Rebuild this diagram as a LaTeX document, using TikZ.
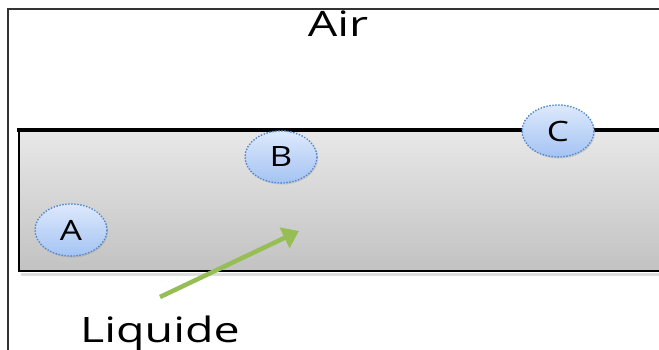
\documentclass[tikz,border=0pt]{standalone}
\usepackage{fontspec}
\newfontfamily\osf{Open Sans}
\usetikzlibrary{shapes.geometric,arrows.meta,shadows}
\definecolor{bubtop}{HTML}{DDE9FC}
\definecolor{bubbot}{HTML}{A4C3F3}
\definecolor{bubedge}{HTML}{4F86CC}
\definecolor{bubring}{HTML}{C2D7F3}
\definecolor{liqtop}{HTML}{E8E8E8}
\definecolor{liqbot}{HTML}{C2C2C2}
\definecolor{arrowgreen}{HTML}{96BE55}
\tikzset{
  bubble/.style={ellipse, minimum width=72pt, minimum height=52pt, inner sep=0pt,
    top color=bubtop, bottom color=bubbot,
    preaction={draw=bubring, line width=1.4pt},
    draw=bubedge, line width=1.9pt,
    dash pattern=on 0pt off 3pt, line cap=round,
    drop shadow={opacity=0.25, shadow xshift=1pt, shadow yshift=-1.5pt},
    font=\osf\fontsize{28}{30}\selectfont},
  label text/.style={font=\osf\fontsize{35}{38}\selectfont, inner sep=0pt},
}
\newcommand{\wide}[1]{\scalebox{1.25}[1]{#1}}
\begin{document}
\begin{tikzpicture}[x=1pt,y=-1pt]
\useasboundingbox (0,0) rectangle (659,350);
\fill[white] (0,0) rectangle (659,350);
% outer frame of the air region
\draw[line width=1.8pt, black!80] (8,352) -- (8,9) -- (661,9);
% liquid layer
\fill[black!25, opacity=0.5] (21,273) rectangle (661,276);
\shade[top color=liqtop, bottom color=liqbot] (19,130) rectangle (661,271);
\draw[line width=1.6pt] (661,271) -- (19,271) -- (19,130);
\draw[line width=4pt] (17,130) -- (661,130);
% texts
\node[label text, anchor=base] (air) at (338,37) {\scalebox{1.33}[1]{Air}};
\node[label text, anchor=base west] (liq) at (80,342) {\scalebox{1.33}[1]{Liquide}};
% bubbles
\node[bubble] (A) at (71,230) {\wide{A}};
\node[bubble] (B) at (281,157) {\wide{B}};
\node[bubble] (C) at (558,131) {\wide{C}};
% pointer to the liquid
\coordinate (tip) at (299,231);
\coordinate (tail) at (160,297);
\draw[arrowgreen, line width=4.5pt, -{Triangle[width=22pt,length=16pt]}] (tail) -- (tip);
\end{tikzpicture}
\end{document}
